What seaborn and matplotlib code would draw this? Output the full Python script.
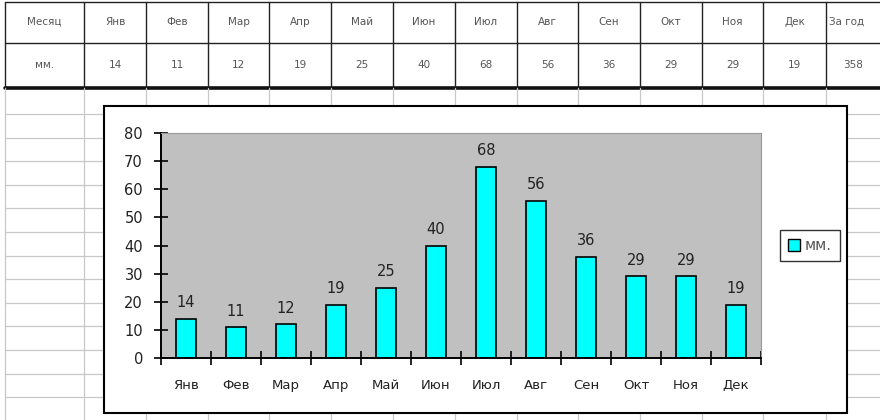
import matplotlib
matplotlib.use("Agg")
import matplotlib.pyplot as plt
import seaborn as sns
import pandas as pd
from matplotlib.patches import Rectangle, Patch
from matplotlib.ticker import FixedLocator, NullFormatter

months = ["Янв", "Фев", "Мар", "Апр", "Май", "Июн", "Июл", "Авг", "Сен", "Окт", "Ноя", "Дек"]
values = [14, 11, 12, 19, 25, 40, 68, 56, 36, 29, 29, 19]
table_head = "Месяц"
table_unit = "мм."
table_total_label = "За год"
y_ticks = [0, 10, 20, 30, 40, 50, 60, 70, 80]

df = pd.DataFrame({"month": months, "mm": values})

sns.set_style("white")
plt.rcParams["font.family"] = ["DejaVu Sans"]

W, H = 880, 420
fig = plt.figure(figsize=(W / 100, H / 100), dpi=100)

# ---- spreadsheet background ----
bg = fig.add_axes([0, 0, 1, 1])
bg.set_xlim(0, W)
bg.set_ylim(H, 0)
bg.axis("off")

cols = [5, 84, 146, 208, 269, 331, 393, 455, 517, 578, 640, 702, 763, 826]
for y in [2, 43]:
    bg.plot([5, W], [y, y], color="#222222", lw=1.0)
bg.plot([5, W], [88, 88], color="#111111", lw=2.6)
for x in cols:
    bg.plot([x, x], [2, 88], color="#222222", lw=1.0)
row_y = [114 + k * 23.6 for k in range(13)]
for y in row_y:
    bg.plot([5, W], [y, y], color="#c8c8c8", lw=0.9)
for x in cols:
    bg.plot([x, x], [88, H], color="#c8c8c8", lw=0.9)

tstyle = dict(fontsize=7.5, color="#555555", va="center", ha="center")
bg.text((cols[0] + cols[1]) / 2, 22, table_head, **tstyle)
bg.text((cols[0] + cols[1]) / 2, 65, table_unit, **tstyle)
for i, (m, v) in enumerate(zip(months, values)):
    cx = (cols[i + 1] + cols[i + 2]) / 2
    bg.text(cx, 22, m, **tstyle)
    bg.text(cx, 65, str(v), **tstyle)
bg.text(cols[-1] + 3, 22, table_total_label, fontsize=7.5, color="#555555", va="center", ha="left")
bg.text(cols[-1] + 27, 65, str(sum(values)), **tstyle)

bg.add_patch(Rectangle((104, 106), 847 - 104, 413 - 106, facecolor="white",
                       edgecolor="black", lw=1.5, zorder=10))

# ---- plot area ----
L, R, T, B = 161, 761, 133, 358
ax = fig.add_axes([L / W, (H - B) / H, (R - L) / W, (B - T) / H])
ax.set_facecolor("#c0c0c0")
sns.barplot(data=df, x="month", y="mm", color="#00ffff", saturation=1,
            edgecolor="black", linewidth=1.2, width=0.4, ax=ax)
ax.set_xlim(-0.5, 11.5)
ax.set_ylim(0, 80)
ax.set_xlabel("")
ax.set_ylabel("")

for c in ax.containers:
    ax.bar_label(c, labels=[str(v) for v in values], padding=6,
                 fontsize=10.5, color="#222222")

ax.set_yticks(y_ticks)
ax.set_yticklabels([str(t) for t in y_ticks], fontsize=10.5, color="#222222")
ax.tick_params(axis="y", direction="inout", length=10, width=1.2, color="black", pad=8, left=True)

ax.xaxis.set_major_locator(FixedLocator([i - 0.5 for i in range(13)]))
ax.xaxis.set_major_formatter(NullFormatter())
ax.xaxis.set_minor_locator(FixedLocator(list(range(12))))
ax.set_xticklabels(months, minor=True, fontsize=9.5, color="#222222")
ax.tick_params(axis="x", which="major", direction="inout", length=10, width=1.2, color="black", bottom=True)
ax.tick_params(axis="x", which="minor", length=0, pad=15)

for s in ["top", "right"]:
    ax.spines[s].set_color("#9a9a9a")
    ax.spines[s].set_linewidth(0.8)
for s in ["left", "bottom"]:
    ax.spines[s].set_color("black")
    ax.spines[s].set_linewidth(1.4)

handle = Patch(facecolor="#00ffff", edgecolor="black", lw=1.0)
leg = fig.legend([handle], [table_unit], loc="center",
                 bbox_to_anchor=(810 / W, 1 - 245.5 / H), fontsize=10.5,
                 frameon=True, fancybox=False, handlelength=0.8, handleheight=0.8,
                 handletextpad=0.35, borderpad=0.55, labelcolor="#555555")
leg.get_frame().set_edgecolor("black")
leg.get_frame().set_linewidth(1.0)
leg.set_zorder(20)

fig.savefig("out.png", dpi=100)
